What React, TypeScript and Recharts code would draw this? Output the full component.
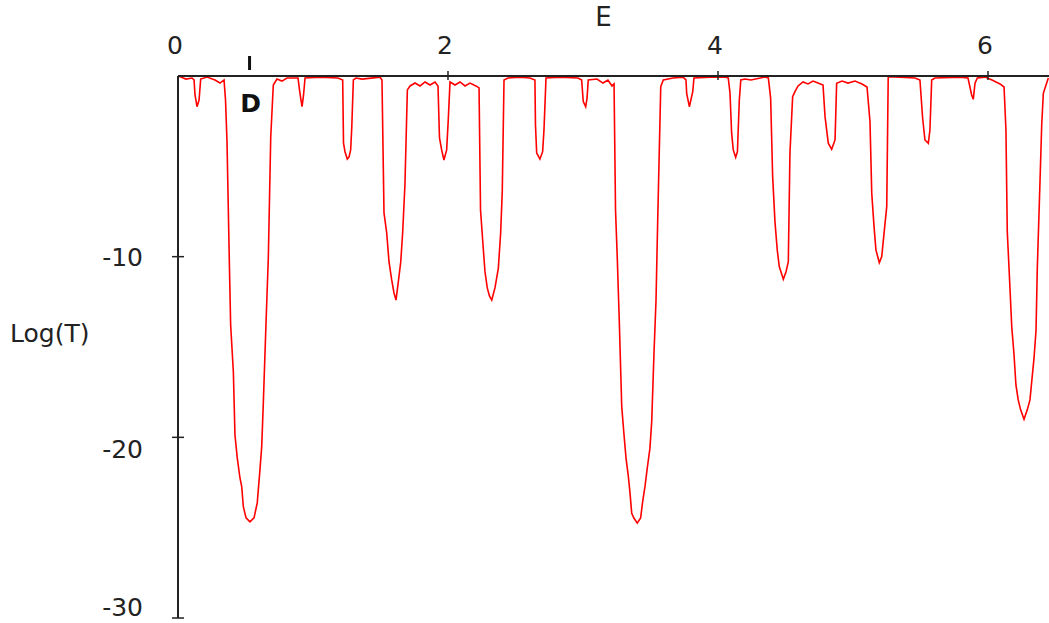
import { LineChart, Line, XAxis, YAxis, ReferenceDot } from 'recharts'

// energy E and transmission Log(T)
const energy = [
  0, 0.059, 0.104, 0.119, 0.126, 0.141, 0.156, 0.168, 0.215, 0.274, 0.311, 0.341,
  0.352, 0.363, 0.38, 0.39, 0.41, 0.422, 0.439, 0.459, 0.472, 0.484, 0.504, 0.533,
  0.563, 0.587, 0.607, 0.62, 0.632, 0.652, 0.669, 0.687, 0.706, 0.733, 0.77, 0.807,
  0.889, 0.9, 0.911, 0.919, 0.93, 0.941, 1.052, 1.185,
  1.22, 1.226, 1.237, 1.254, 1.267, 1.279, 1.287, 1.299, 1.319, 1.363, 1.496,
  1.511, 1.526, 1.546, 1.563, 1.583, 1.6, 1.615, 1.632, 1.65, 1.664, 1.681, 1.699,
  1.719, 1.756, 1.793, 1.83, 1.867, 1.904, 1.926,
  1.937, 1.953, 1.97, 1.99, 2.002, 2.015, 2.052, 2.089, 2.126, 2.163, 2.207, 2.23,
  2.241, 2.261, 2.274, 2.291, 2.307, 2.324, 2.348, 2.373, 2.39, 2.402, 2.415, 2.444,
  2.533, 2.607,
  2.644, 2.648, 2.657, 2.681, 2.701, 2.711, 2.726, 2.83, 2.963,
  2.99, 3.002, 3.02, 3.03, 3.039, 3.104, 3.148, 3.185, 3.215, 3.23,
  3.241, 3.254, 3.269, 3.287, 3.304, 3.319, 3.336, 3.348, 3.361, 3.378, 3.402, 3.427,
  3.442, 3.459, 3.476, 3.496, 3.509, 3.526, 3.541, 3.553, 3.565, 3.576, 3.595, 3.667,
  3.741,
  3.763, 3.768, 3.788, 3.813, 3.822, 3.941, 4.052,
  4.076, 4.089, 4.101, 4.113, 4.131, 4.144, 4.158, 4.169, 4.2, 4.244, 4.348,
  4.373, 4.39, 4.405, 4.422, 4.439, 4.454, 4.484, 4.504, 4.521, 4.533, 4.553, 4.57,
  4.593, 4.63, 4.667, 4.704, 4.741, 4.778,
  4.793, 4.817, 4.842, 4.867, 4.879, 4.919, 4.963, 5.015, 5.067, 5.104,
  5.126, 5.139, 5.156, 5.17, 5.195, 5.213, 5.23, 5.25, 5.261, 5.348, 5.459, 5.496,
  5.516, 5.533, 5.558, 5.57, 5.583, 5.607, 5.793, 5.852,
  5.879, 5.891, 5.904, 5.921, 5.978, 6.03, 6.059, 6.089, 6.119,
  6.133, 6.143, 6.163, 6.176, 6.193, 6.207, 6.224, 6.242, 6.267, 6.291, 6.311, 6.324,
  6.341, 6.356, 6.365, 6.38, 6.398, 6.41, 6.43, 6.447,
]

const logT = [
  0, -0.17, -0.11, -0.22, -1.05, -1.7, -1.33, -0.17, -0.06, -0.22, -0.39, -0.22,
  -1.33, -3.64, -10.18, -13.78, -16.36, -19.87, -21.14, -22.25, -22.73, -23.84, -24.46, -24.68,
  -24.46, -23.63, -21.8, -20.53, -18.1, -13.67, -10.07, -3.38, -0.5, -0.17, -0.28, -0.11,
  -0.11, -0.77, -1.33, -1.7, -1.05, -0.11, -0.06, -0.11,
  -0.22, -3.71, -4.19, -4.6, -4.48, -4.09, -2.88, -0.22, -0.11, -0.17, -0.06,
  -0.22, -7.58, -8.69, -10.28, -11.29, -12.01, -12.4, -11.4, -10.29, -8.69, -6.03, -0.77,
  -0.55, -0.39, -0.55, -0.33, -0.5, -0.33, -0.55,
  -3.43, -4.09, -4.65, -4.09, -2.43, -0.33, -0.5, -0.33, -0.55, -0.39, -0.55, -0.66,
  -7.42, -9.52, -10.83, -11.73, -12.17, -12.4, -11.73, -10.63, -8.69, -6.4, -0.22, -0.11,
  -0.06, -0.11,
  -0.22, -2.71, -4.26, -4.6, -4.19, -2.99, -0.11, -0.06, -0.11,
  -0.22, -1.42, -1.7, -1.22, -0.22, -0.17, -0.39, -0.22, -0.55, -0.44,
  -7.42, -10.07, -13.6, -18.3, -19.87, -21.16, -22.17, -23.06, -24.2, -24.48, -24.75, -24.46,
  -23.56, -22.73, -21.71, -20.6, -19.13, -15.33, -12.4, -8.15, -4.19, -0.59, -0.22, -0.11,
  -0.06,
  -0.22, -0.96, -1.7, -0.87, -0.11, -0.06, -0.06,
  -0.11, -0.94, -3.15, -4.09, -4.5, -4.19, -1.33, -0.22, -0.17, -0.22, -0.06,
  -0.11, -1.22, -5.57, -8.06, -9.63, -10.55, -11.25, -10.83, -10.28, -4.28, -1.15, -0.87,
  -0.55, -0.33, -0.44, -0.28, -0.39, -0.5,
  -2.25, -3.72, -4.06, -3.54, -0.4, -0.28, -0.39, -0.28, -0.44, -0.61,
  -2.53, -6.49, -8.34, -9.63, -10.33, -10.0, -8.71, -7.23, -0.04, -0.06, -0.11, -0.22,
  -2.34, -3.54, -3.72, -2.99, -0.22, -0.11, -0.06, -0.11,
  -1.05, -1.29, -0.4, -0.11, -0.06, -0.22, -0.33, -0.44, -0.61,
  -2.99, -8.62, -11.75, -13.87, -15.44, -17.1, -17.93, -18.48, -19.0, -18.48, -17.93, -16.92,
  -15.62, -14.06, -10.72, -7.14, -2.71, -0.96, -0.5, -0.11,
]

const xTicks = [0, 2, 4, 6]
const yTicks = [-30, -20, -10]
const markerE = 0.53
const markerLabel = 'D'

const data = energy.map((e, i) => ({ e, t: logT[i] }))

const FONT = '"DejaVu Sans", sans-serif'
const INK = '#222'

const XTick = (props: any) => {
  const { x, y, payload } = props
  return (
    <g>
      {payload.value !== 0 && <line x1={x} x2={x} y1={y - 5} y2={y + 4} stroke={INK} strokeWidth={1.5} />}
      <text x={x - 3} y={y - 22} textAnchor="middle" fontFamily={FONT} fontSize={25} fill={INK}>
        {payload.value}
      </text>
    </g>
  )
}

// the original labels sit a little off their ticks
const yLabelShift: Record<number, number> = { [-10]: 0, [-20]: 12, [-30]: -11 }

const YTick = (props: any) => {
  const { x, y, payload } = props
  const shift = yLabelShift[payload.value] ?? 0
  return (
    <g>
      <line x1={x - 6} x2={x + 6} y1={y} y2={y} stroke={INK} strokeWidth={1.5} />
      <text x={x - 35} y={y + 9 + shift} textAnchor="end" fontFamily={FONT} fontSize={25} fill={INK}>
        {payload.value}
      </text>
    </g>
  )
}

const Marker = (props: any) => {
  const { cx, cy } = props
  return (
    <g>
      <line x1={cx} x2={cx} y1={cy - 20} y2={cy - 6} stroke="#111" strokeWidth={3} />
      <text x={cx + 1} y={cy + 36} textAnchor="middle" fontFamily={FONT} fontWeight="bold" fontSize={25} fill="#111">
        {markerLabel}
      </text>
    </g>
  )
}

export default function App() {
  return (
    <div style={{ position: 'absolute', left: 0, top: 0, background: '#fff', fontFamily: FONT }}>
      <LineChart width={1049} height={623} data={data} margin={{ top: 0, right: 0, bottom: 5, left: 0 }}>
        <XAxis
          dataKey="e"
          type="number"
          orientation="top"
          height={76}
          domain={[0, 6.452]}
          ticks={xTicks}
          interval={0}
          allowDataOverflow
          tickLine={false}
          tickSize={0}
          tickMargin={0}
          tick={<XTick />}
          axisLine={{ stroke: INK, strokeWidth: 2 }}
          label={{ value: 'E', position: 'insideTop', offset: 8, dx: -10, fill: INK, fontSize: 26, fontFamily: FONT }}
        />
        <YAxis
          type="number"
          width={178}
          domain={[-30, 0]}
          ticks={yTicks}
          interval={0}
          allowDataOverflow
          tickLine={false}
          tickSize={0}
          tickMargin={0}
          tick={<YTick />}
          axisLine={{ stroke: INK, strokeWidth: 2 }}
          label={{ value: 'Log(T)', position: 'insideLeft', offset: 10, dy: -14, fill: INK, fontSize: 25, fontFamily: FONT }}
        />
        <Line
          type="linear"
          dataKey="t"
          stroke="#ff0000"
          strokeWidth={1.6}
          dot={false}
          isAnimationActive={false}
        />
        <ReferenceDot x={markerE} y={0} shape={<Marker />} />
      </LineChart>
    </div>
  )
}
